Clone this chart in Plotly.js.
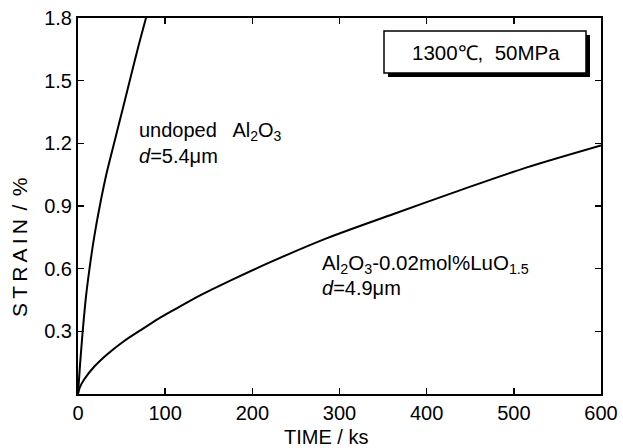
<!DOCTYPE html>
<html>
<head>
<meta charset="utf-8">
<script src="https://cdn.plot.ly/plotly-3.0.1.min.js"></script>
<style>html,body{margin:0;padding:0;background:#fff;}#chart{width:623px;height:448px;}</style>
</head>
<body>
<div id="chart"></div>
<script>
// Undoped Al2O3 (d=5.4 µm)
const undopedTime = [0, 0.5, 1.5, 2.5, 4, 5.4, 9, 13.2, 18.5, 25, 33, 42, 51, 60, 69, 78];
const undopedStrain = [0, 0.03, 0.09, 0.15, 0.23, 0.30, 0.46, 0.60, 0.75, 0.90, 1.06, 1.21, 1.36, 1.51, 1.66, 1.80];
// Al2O3-0.02mol%LuO1.5 (d=4.9 µm)
const dopedTime = [0, 2, 7.6, 19, 34, 53, 72, 92, 109, 144, 182, 220, 285, 362, 438, 515, 600];
const dopedStrain = [0, 0.031, 0.073, 0.133, 0.192, 0.254, 0.306, 0.36, 0.40, 0.48, 0.557, 0.63, 0.745, 0.862, 0.975, 1.085, 1.19];
const xTicks = [0, 100, 200, 300, 400, 500, 600];
const yTicks = [0.3, 0.6, 0.9, 1.2, 1.5, 1.8];

const FONT = 'Liberation Sans, Arial, Helvetica, sans-serif';
// plot area in pixels: left 78, right 601, top 18, bottom 394
const L = 78, R = 601, T = 18, B = 394;
const px = x => (x - L) / (R - L);
const py = y => (B - y) / (B - T);

const lineStyle = {color: '#000', width: 2, shape: 'spline', smoothing: 0.8};
const traces = [
  {x: undopedTime, y: undopedStrain, mode: 'lines', line: lineStyle, name: 'undoped Al2O3', hoverinfo: 'x+y'},
  {x: dopedTime, y: dopedStrain, mode: 'lines', line: lineStyle, name: 'Al2O3-0.02mol%LuO1.5', hoverinfo: 'x+y'}
];

const axisCommon = {
  showgrid: false, zeroline: false, showline: true, linecolor: '#000', linewidth: 2,
  mirror: 'ticks', ticks: 'inside', ticklen: 6, tickwidth: 1.5, tickcolor: '#000',
  tickfont: {family: FONT, size: 20, color: '#000'}
};

const textFont = {family: FONT, size: 20, color: '#000'};
const annotations = [
  {xref: 'paper', yref: 'paper', x: px(137), y: py(131), xanchor: 'left', yanchor: 'middle', showarrow: false,
   text: 'undoped\u00a0\u00a0 Al<sub>2</sub>O<sub>3</sub>', font: textFont},
  {xref: 'paper', yref: 'paper', x: px(137), y: py(156), xanchor: 'left', yanchor: 'middle', showarrow: false,
   text: '<i>d</i>=5.4μm', font: textFont},
  {xref: 'paper', yref: 'paper', x: px(320), y: py(264), xanchor: 'left', yanchor: 'middle', showarrow: false,
   text: 'Al<sub>2</sub>O<sub>3</sub>-0.02mol%LuO<sub>1.5</sub>', font: {family: FONT, size: 20.5, color: '#000'}},
  {xref: 'paper', yref: 'paper', x: px(320), y: py(288), xanchor: 'left', yanchor: 'middle', showarrow: false,
   text: '<i>d</i>=4.9μm', font: textFont},
  {xref: 'paper', yref: 'paper', x: px(486), y: py(52), xanchor: 'center', yanchor: 'middle', showarrow: false,
   text: '1300℃,\u00a0 50MPa', font: {family: FONT, size: 20.5, color: '#000'}},
  {xref: 'paper', yref: 'paper', x: px(326), y: py(437), xanchor: 'center', yanchor: 'middle', showarrow: false,
   text: 'TIME / ks', font: {family: FONT, size: 20, color: '#000'}},
  {xref: 'paper', yref: 'paper', x: px(19), y: py(248), xanchor: 'center', yanchor: 'middle', showarrow: false,
   textangle: -90, text: 'S\u2009T\u2009R\u2009A\u2009I\u2009N\u2009\u2009/\u2009\u2009%', font: {family: FONT, size: 21, color: '#000'}}
];

const shapes = [
  {type: 'rect', xref: 'paper', yref: 'paper', x0: px(388), x1: px(590), y0: py(77), y1: py(35),
   fillcolor: '#000', line: {width: 0}, layer: 'above'},
  {type: 'rect', xref: 'paper', yref: 'paper', x0: px(384), x1: px(586), y0: py(73), y1: py(31),
   fillcolor: '#fff', line: {color: '#000', width: 1.5}, layer: 'above'}
];

const layout = {
  width: 623, height: 448,
  margin: {l: L, r: 623 - R, t: T, b: 448 - B, pad: 0},
  paper_bgcolor: '#fff', plot_bgcolor: '#fff',
  showlegend: false,
  xaxis: Object.assign({}, axisCommon, {range: [0, 600], tickvals: xTicks, ticktext: xTicks.map(String)}),
  yaxis: Object.assign({}, axisCommon, {range: [0, 1.8], tickvals: yTicks, ticktext: yTicks.map(v => v.toFixed(1))}),
  annotations: annotations,
  shapes: shapes
};

Plotly.newPlot('chart', traces, layout, {displayModeBar: false, staticPlot: true});
</script>
</body>
</html>
